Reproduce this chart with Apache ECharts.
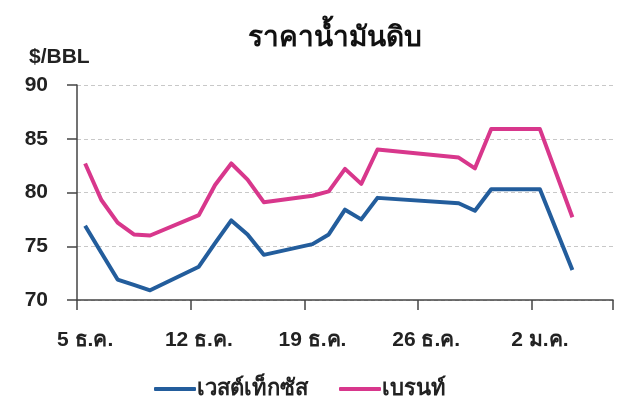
<!DOCTYPE html>
<html>
<head>
<meta charset="utf-8">
<script src="https://cdn.jsdelivr.net/npm/echarts@6/dist/echarts.min.js"></script>
<style>
html,body{margin:0;padding:0;background:#fff;}
#c{width:637px;height:418px;}
</style>
</head>
<body>
<div id="c"></div>
<script>
const dates = ['5 ธ.ค.','6 ธ.ค.','7 ธ.ค.','8 ธ.ค.','9 ธ.ค.','10 ธ.ค.','11 ธ.ค.','12 ธ.ค.','13 ธ.ค.','14 ธ.ค.','15 ธ.ค.','16 ธ.ค.','17 ธ.ค.','18 ธ.ค.','19 ธ.ค.','20 ธ.ค.','21 ธ.ค.','22 ธ.ค.','23 ธ.ค.','24 ธ.ค.','25 ธ.ค.','26 ธ.ค.','27 ธ.ค.','28 ธ.ค.','29 ธ.ค.','30 ธ.ค.','31 ธ.ค.','1 ม.ค.','2 ม.ค.','3 ม.ค.','4 ม.ค.','5 ม.ค.','6 ม.ค.'];
const wti = [76.9,74.4,71.9,71.4,70.9,null,null,73.1,75.3,77.4,76.1,74.2,null,null,75.2,76.1,78.4,77.5,79.5,null,null,null,null,79.0,78.3,80.3,null,null,80.3,null,72.8,null,null];
const brent = [82.7,79.3,77.2,76.1,76.0,null,null,77.9,80.7,82.7,81.2,79.1,null,null,79.7,80.1,82.2,80.8,84.0,null,null,null,null,83.25,82.25,85.9,null,null,85.9,null,77.7,null,null];
const seriesNames = ['เวสต์เท็กซัส','เบรนท์'];
const chartTitle = 'ราคาน้ำมันดิบ';
const unitLabel = '$/BBL';

const FONT = '"Liberation Sans", Arial, sans-serif';
const chart = echarts.init(document.getElementById('c'), null, {renderer:'canvas'});
chart.setOption({
  animation:false,
  backgroundColor:'#fff',
  title:[
    {text:chartTitle,left:243,top:19,textStyle:{fontFamily:FONT,fontSize:28,fontWeight:'bold',color:'#111'}},
    {text:unitLabel,left:24,top:42,textStyle:{fontFamily:FONT,fontSize:21,fontWeight:'bold',color:'#222'}}
  ],
  legend:{
    data:seriesNames,
    left:149, top:373,
    icon:'roundRect',
    itemWidth:42, itemHeight:4, itemGap:31,
    textStyle:{fontFamily:FONT,fontSize:22,fontWeight:'bold',color:'#222',padding:[0,0,0,-4]}
  },
  grid:{left:77,right:24,top:85,bottom:118,containLabel:false},
  xAxis:{
    type:'category',
    data:dates,
    boundaryGap:true,
    axisLine:{lineStyle:{color:'#444',width:1.5}},
    axisTick:{show:true,interval:6,length:10,lineStyle:{color:'#444',width:1.5}},
    axisLabel:{interval:6,margin:30,fontFamily:FONT,fontSize:21,fontWeight:'bold',color:'#222'},
    splitLine:{show:false}
  },
  yAxis:{
    type:'value',
    min:70,max:90,interval:5,
    axisLine:{show:true,lineStyle:{color:'#444',width:1.5}},
    axisTick:{show:true,length:10,lineStyle:{color:'#444',width:1.5}},
    axisLabel:{margin:29,fontFamily:FONT,fontSize:21,fontWeight:'bold',color:'#222'},
    splitLine:{show:true,lineStyle:{color:'#c8c8c8',type:[4,3],width:1}}
  },
  series:[
    {name:seriesNames[0],type:'line',data:wti,connectNulls:true,symbol:'none',lineStyle:{width:4,color:'#235d9c',join:'round'},itemStyle:{color:'#235d9c'}},
    {name:seriesNames[1],type:'line',data:brent,connectNulls:true,symbol:'none',lineStyle:{width:4,color:'#d8378c',join:'round'},itemStyle:{color:'#d8378c'}}
  ]
});
</script>
</body>
</html>
